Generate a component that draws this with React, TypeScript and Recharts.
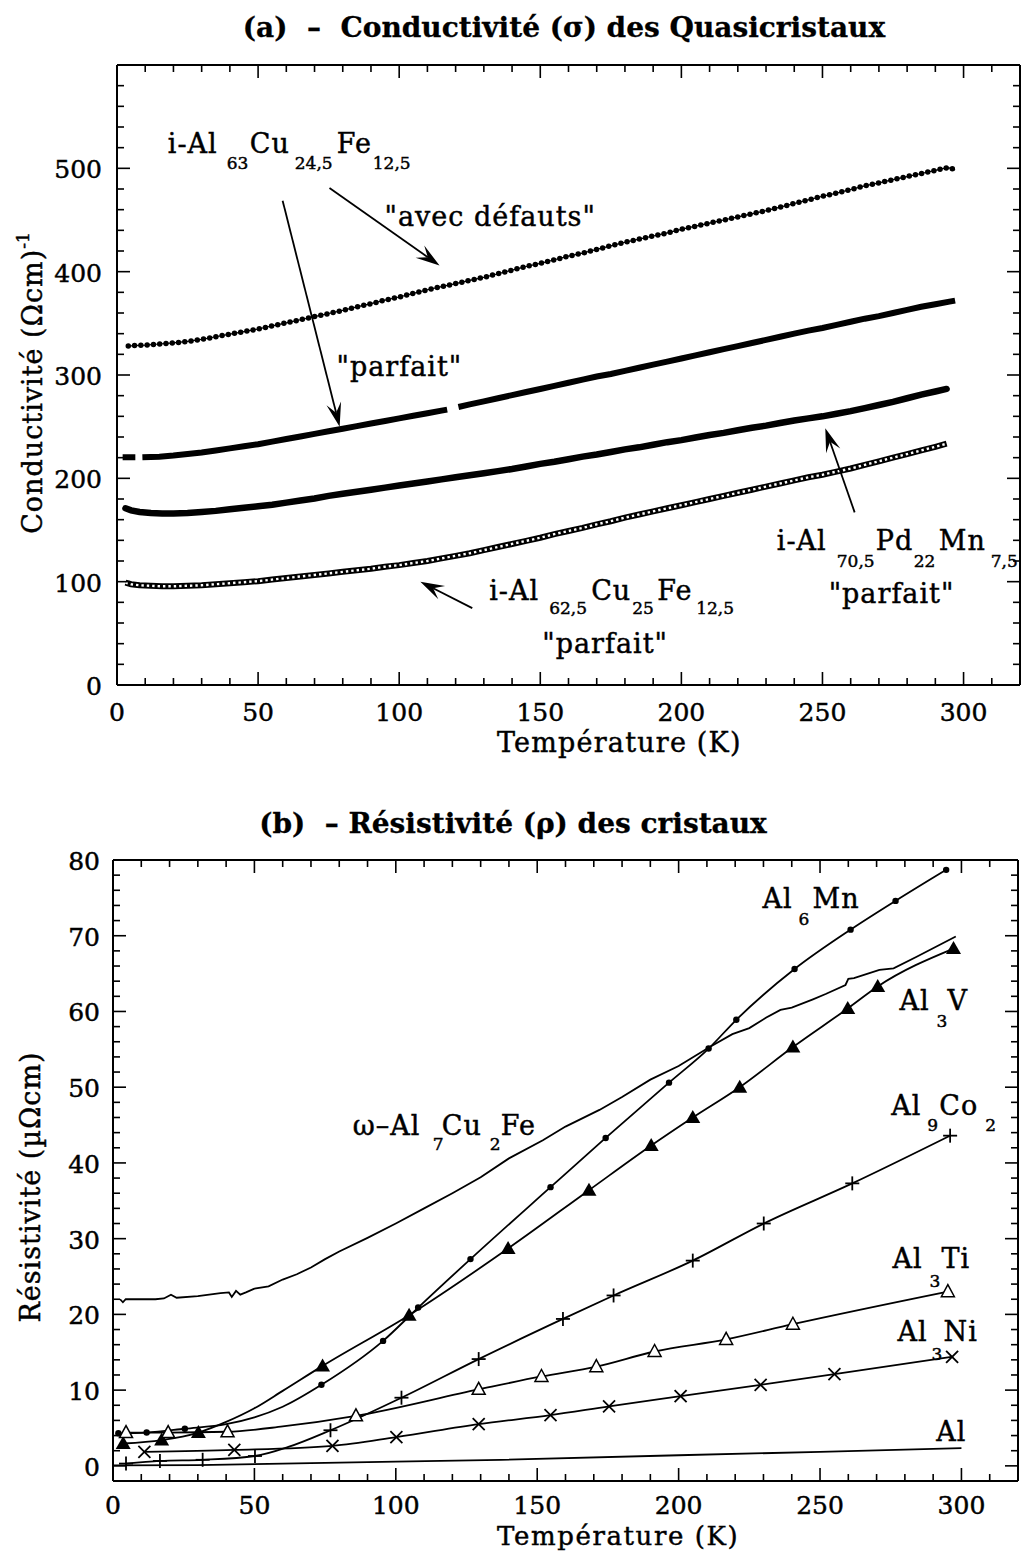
import React from 'react';
import { LineChart, Line, XAxis, YAxis, ReferenceDot, ReferenceLine } from 'recharts';

const SERIF = '"DejaVu Serif", "Liberation Serif", serif';
const INK = { fontFamily: SERIF, fill: '#000', stroke: '#000', strokeWidth: 0.45 };

// ---------- (a) conductivity σ of quasicrystals, (Ωcm)^-1 vs T (K) ----------
const sigmaAvecDefauts: [number, number][] = [
  [4, 328], [6, 328.5], [10, 329], [15, 330], [20, 331], [25, 332.5], [30, 334.5], [35, 337],
  [40, 339.5], [45, 342], [50, 344.5], [55, 347.5], [60, 350.5], [65, 353.5], [70, 356.5],
  [75, 359.5], [80, 362.5], [85, 366], [90, 369], [95, 372.5], [100, 375.5], [105, 379],
  [110, 382.5], [115, 385.5], [120, 388.5], [125, 391.5], [130, 394.5], [135, 398], [140, 401.5],
  [145, 405], [150, 408], [155, 411.5], [160, 415], [165, 418], [170, 421.5], [175, 425],
  [180, 428.5], [185, 431.5], [190, 434.5], [195, 437.5], [200, 441], [205, 444], [210, 447],
  [215, 450], [220, 453], [225, 456], [230, 459], [235, 462.5], [240, 466], [245, 469.5],
  [250, 473], [255, 476], [260, 479.5], [265, 483], [270, 486], [275, 489], [280, 492],
  [285, 495], [290, 498], [293, 500], [295, 500.5], [297, 498.5],
];

const sigmaAl63Parfait: [number, number | null][] = [
  [2, 220.5], [6.5, 220.5], [7.7, null], [9, 220.5], [15, 221], [20, 222], [25, 223.5], [30, 225],
  [35, 227], [40, 229], [45, 231], [50, 233], [55, 235.5], [60, 238], [65, 240.5], [70, 243],
  [75, 245.5], [80, 248], [85, 250.5], [90, 253], [95, 255.5], [100, 258], [105, 260.5],
  [110, 263], [115, 265.5], [117, 266.5], [119, null], [121, 269], [125, 271.5], [130, 274.5],
  [135, 277.5], [140, 280.5], [145, 283.5], [150, 286.5], [155, 289.5], [160, 292.5],
  [165, 295.5], [170, 298.5], [175, 301], [180, 304], [185, 307], [190, 310], [195, 313],
  [200, 316], [205, 319], [210, 322], [215, 325], [220, 328], [225, 331], [230, 334],
  [235, 337], [240, 340], [245, 343], [250, 345.5], [255, 348.5], [260, 351.5], [265, 354.5],
  [270, 357], [275, 360], [280, 363], [285, 366], [290, 368.5], [295, 371], [297, 372],
];

const sigmaPdMnParfait: [number, number][] = [
  [3, 171], [5, 169], [8, 167.5], [12, 166.5], [16, 166], [20, 166], [25, 166.5], [30, 167.5],
  [35, 168.5], [40, 170], [45, 171.5], [50, 173], [55, 174.5], [60, 176.5], [65, 178.5],
  [70, 180.5], [75, 183], [80, 185], [85, 187], [90, 189], [95, 191], [100, 193], [105, 195],
  [110, 197], [115, 199], [120, 201], [125, 203], [130, 205], [135, 207], [140, 209],
  [145, 211.5], [150, 214], [155, 216], [160, 218.5], [165, 221], [170, 223], [175, 225.5],
  [180, 228], [185, 230], [190, 232.5], [195, 235], [200, 237], [205, 239.5], [210, 242],
  [215, 244], [220, 246.5], [225, 249], [230, 251], [235, 253.5], [240, 256], [245, 258],
  [250, 260], [255, 262.5], [260, 265], [265, 268], [270, 271], [275, 274], [280, 277.5],
  [285, 281], [290, 284], [294, 286.5],
];

const sigmaAl625Parfait: [number, number][] = [
  [3, 99], [5, 97.5], [8, 96.5], [12, 96], [16, 95.5], [20, 95.5], [25, 96], [30, 96.5],
  [35, 97.5], [40, 98.5], [45, 99.5], [50, 100.5], [55, 102], [60, 103.5], [65, 105],
  [70, 106.5], [75, 108], [80, 109.5], [85, 111], [90, 112.5], [95, 114.5], [100, 116],
  [105, 118], [110, 120], [115, 122.5], [120, 125], [125, 127.5], [130, 130.5], [135, 133.5],
  [140, 136.5], [145, 139.5], [150, 142.5], [155, 146], [160, 149], [165, 152], [170, 155.5],
  [175, 158.5], [180, 162], [185, 165], [190, 168], [195, 171], [200, 174], [205, 177],
  [210, 180], [215, 183], [220, 186], [225, 189], [230, 192], [235, 195], [240, 198],
  [245, 201], [250, 203.5], [255, 206.5], [260, 209.5], [265, 213], [270, 216.5], [275, 220],
  [280, 223.5], [285, 227], [290, 230.5], [294, 233.5],
];

// ---------- (b) resistivity ρ of crystals, µΩcm vs T (K); third field: 1 = symbol drawn ----------
const rhoAl6Mn: [number, number, number][] = [
  [1.9, 4.3, 1], [11.9, 4.4, 1], [25.4, 4.9, 1], [40, 5.5, 0], [50, 6.4, 0], [60, 7.8, 0],
  [73.7, 10.7, 1], [95.5, 16.5, 1], [107.9, 20.9, 1], [126.4, 27.3, 1], [154.7, 36.8, 1],
  [174.2, 43.3, 1], [196.6, 50.6, 1], [210.6, 55.1, 1], [220.4, 58.9, 1], [241, 65.6, 1],
  [260.8, 70.8, 1], [276.7, 74.6, 1], [294.6, 78.7, 1],
];

const rhoAl3V: [number, number, number][] = [
  [3.6, 2.95, 1], [17.2, 3.4, 1], [30.2, 4.4, 1], [40, 5.8, 0], [50, 7.6, 0], [60, 9.9, 0],
  [74.1, 13.2, 1], [104.7, 19.9, 1], [139.7, 28.7, 1], [168.3, 36.4, 1], [190.3, 42.3, 1],
  [205, 46, 1], [221.6, 50, 1], [240.4, 55.3, 1], [259.8, 60.4, 1], [270.4, 63.3, 1],
  [297.2, 68.3, 1],
];

const rhoAl9Co2: [number, number, number][] = [
  [4.6, 0.3, 1], [16.6, 0.65, 1], [31.7, 0.8, 1], [50.2, 1.3, 1], [62, 2.5, 0], [76.9, 4.7, 1],
  [102, 9.0, 1], [129.3, 14.1, 1], [159.1, 19.4, 1], [177, 22.5, 1], [205, 27.1, 1],
  [230.1, 32.0, 1], [261.4, 37.3, 1], [296, 43.6, 1],
];

const rhoAl3Ti: [number, number, number][] = [
  [4.6, 4.4, 1], [19.5, 4.4, 1], [40.5, 4.5, 1], [60, 5.2, 0], [85.9, 6.6, 1], [129.3, 10.1, 1],
  [151.5, 11.8, 1], [170.9, 13.1, 1], [191.5, 15.1, 1], [216.8, 16.7, 1], [240.4, 18.7, 1],
  [295.2, 23.0, 1],
];

const rhoAl3Ni: [number, number, number][] = [
  [11.1, 1.85, 1], [42.9, 2.1, 1], [77.6, 2.65, 1], [100.2, 3.8, 1], [129.3, 5.5, 1],
  [154.7, 6.7, 1], [175.4, 7.85, 1], [200.7, 9.2, 1], [229, 10.7, 1], [255.1, 12.1, 1],
  [296.7, 14.4, 1],
];

const rhoOmegaAl7Cu2Fe: [number, number][] = [
  [2.5, 22.0], [3.5, 21.6], [4.5, 22.0], [10, 22.0], [15, 22.0], [18, 22.1], [20.5, 22.6],
  [22.5, 22.2], [30, 22.4], [38, 22.8], [41, 22.9], [42, 22.3], [43.5, 23.1], [45, 22.6],
  [47, 22.9], [50, 23.4], [55, 23.7], [60, 24.6], [65, 25.3], [70, 26.2], [75, 27.3],
  [80, 28.3], [90, 30.1], [100, 32.0], [110, 34.0], [120, 36.0], [130, 38.1], [140, 40.6],
  [152, 43.0], [160, 44.8], [172, 47.0], [180, 48.7], [190, 51.0], [200, 52.8], [211, 55.3],
  [219, 57.0], [225, 57.8], [231, 59.2], [236, 60.2], [240, 60.5], [247.5, 61.6], [252, 62.3],
  [259, 63.5], [260, 64.3], [262, 64.4], [271, 65.5], [276, 65.7], [284, 67.2], [298, 69.9],
];

const rhoAl: [number, number][] = [
  [0, 0.05], [30, 0.1], [60, 0.3], [100, 0.55], [137, 0.8], [200, 1.4], [250, 1.85], [300, 2.35],
];

const range = (a: number, b: number, step: number) =>
  Array.from({ length: Math.round((b - a) / step) + 1 }, (_, i) => a + i * step);

const tempTicks = range(0, 310, 10);
const sigmaTicks = range(0, 600, 20);
const rhoTicks = range(0, 80, 2);

const asSigma = (rows: [number, number | null][]) => rows.map(([T, s]) => ({ T, s }));
const asRho = (rows: ([number, number] | [number, number, number])[]) =>
  rows.map((r) => ({ T: r[0], r: r[1], m: r.length > 2 ? r[2] === 1 : false }));

// ---------- axis ticks: all tick marks point into the frame ----------
type Side = 'bottom' | 'top' | 'left' | 'right';
const tickFn = (side: Side, major: number, labelMax: number | null, labelOff: number) => (p: any) => {
  const v = Number(p.payload.value);
  const isMajor = Math.abs(v / major - Math.round(v / major)) < 1e-6;
  const len = isMajor ? 13 : 7;
  const x = p.x;
  const y = p.y;
  let c = [x, y, x, y];
  if (side === 'bottom') c = [x, y, x, y - len];
  if (side === 'top') c = [x, y, x, y + len];
  if (side === 'left') c = [x, y, x + len, y];
  if (side === 'right') c = [x, y, x - len, y];
  const showLabel = isMajor && labelMax !== null && v >= 0 && v <= labelMax;
  return (
    <g>
      <line x1={c[0]} y1={c[1]} x2={c[2]} y2={c[3]} stroke="#000" strokeWidth={1.6} />
      {showLabel && side === 'bottom' && (
        <text x={x} y={y + labelOff} textAnchor="middle" fontSize={25} {...INK}>
          {v}
        </text>
      )}
      {showLabel && side === 'left' && (
        <text x={x - labelOff} y={y + 10} textAnchor="end" fontSize={25} {...INK}>
          {v}
        </text>
      )}
    </g>
  );
};

// ---------- chemical formulae with subscripts ----------
type Part = { t: string; dx: number; sub?: boolean };
const Formula = ({ cx, cy, parts, drop = 15 }: { cx: number; cy: number; parts: Part[]; drop?: number }) => (
  <text {...INK}>
    {parts.map((p, i) => (
      <tspan
        key={i}
        x={cx + p.dx}
        y={cy + (p.sub ? drop : 0)}
        fontSize={p.sub ? 17 : 27}
        letterSpacing={p.sub ? 0 : 1}
      >
        {p.t}
      </tspan>
    ))}
  </text>
);

const ArrowShape = (p: any) => {
  const { x1, y1, x2, y2 } = p;
  const a = Math.atan2(y2 - y1, x2 - x1);
  const L = 24;
  const W = 7.5;
  const cs = Math.cos(a);
  const sn = Math.sin(a);
  const bx = x2 - L * cs;
  const by = y2 - L * sn;
  const nx = x2 - L * 0.6 * cs;
  const ny = y2 - L * 0.6 * sn;
  const pts = `${x2},${y2} ${bx - W * sn},${by + W * cs} ${nx},${ny} ${bx + W * sn},${by - W * cs}`;
  return (
    <g>
      <line x1={x1} y1={y1} x2={nx} y2={ny} stroke="#000" strokeWidth={1.8} />
      <polygon points={pts} fill="#000" />
    </g>
  );
};

const markerDot = (kind: 'dot' | 'tri' | 'otri' | 'plus' | 'cross') => (p: any) => {
  const { cx, cy, payload, index } = p;
  if (!payload || !payload.m || cx == null || cy == null) return <g key={`n${index}`} />;
  const k = `m${index}`;
  if (kind === 'dot') return <circle key={k} cx={cx} cy={cy} r={3.2} fill="#000" />;
  if (kind === 'tri')
    return <polygon key={k} points={`${cx},${cy - 7.5} ${cx - 7.5},${cy + 5.5} ${cx + 7.5},${cy + 5.5}`} fill="#000" />;
  if (kind === 'otri')
    return (
      <polygon
        key={k}
        points={`${cx},${cy - 7} ${cx - 6.5},${cy + 5} ${cx + 6.5},${cy + 5}`}
        fill="#fff"
        stroke="#000"
        strokeWidth={1.5}
      />
    );
  if (kind === 'plus')
    return (
      <g key={k} stroke="#000" strokeWidth={1.8}>
        <line x1={cx - 7} y1={cy} x2={cx + 7} y2={cy} />
        <line x1={cx} y1={cy - 7} x2={cx} y2={cy + 7} />
      </g>
    );
  return (
    <g key={k} stroke="#000" strokeWidth={1.8}>
      <line x1={cx - 6} y1={cy - 6} x2={cx + 6} y2={cy + 6} />
      <line x1={cx - 6} y1={cy + 6} x2={cx + 6} y2={cy - 6} />
    </g>
  );
};

const frame = { stroke: '#000', strokeWidth: 2 };

const titleLabel = (text: string, dx: number, dy: number) => (p: any) => {
  const vb = p.viewBox || {};
  return (
    <text
      x={vb.x + dx}
      y={vb.y + dy}
      textAnchor="middle"
      fontWeight="bold"
      fontSize={28}
      style={{ whiteSpace: 'pre' }}
      {...INK}
      strokeWidth={0.3}
    >
      {text}
    </text>
  );
};

const xTitle = (dx: number, dy: number, size: number, spacing: number) => (p: any) => {
  const vb = p.viewBox || {};
  return (
    <text x={vb.x + dx} y={vb.y + dy} fontSize={size} letterSpacing={spacing} {...INK}>
      Température (K)
    </text>
  );
};

const yTitle = (text: string, sup: string | null, bx: number, dy: number) => (p: any) => {
  const vb = p.viewBox || {};
  const x = vb.x + bx;
  const y = vb.y + dy;
  return (
    <text
      x={x}
      y={y}
      transform={`rotate(-90, ${x}, ${y})`}
      textAnchor="middle"
      fontSize={27}
      letterSpacing={1}
      {...INK}
    >
      {text}
      {sup && (
        <tspan dy={-13} fontSize={17} letterSpacing={0}>
          {sup}
        </tspan>
      )}
    </text>
  );
};

const ConductivityChart = () => (
  <LineChart width={1023} height={770} margin={{ top: 64, right: 2, bottom: 0, left: 0 }}>
    <XAxis
      type="number"
      dataKey="T"
      domain={[0, 320]}
      ticks={tempTicks}
      interval={0}
      allowDataOverflow
      height={85}
      tickSize={0}
      tickMargin={0}
      tickLine={false}
      axisLine={frame}
      tick={tickFn('bottom', 50, 300, 36)}
      label={xTitle(380, 67, 27, 1.2)}
    />
    <XAxis
      xAxisId="top"
      orientation="top"
      type="number"
      dataKey="T"
      domain={[0, 320]}
      ticks={tempTicks}
      interval={0}
      allowDataOverflow
      height={1}
      tickSize={0}
      tickMargin={0}
      tickLine={false}
      axisLine={frame}
      tick={tickFn('top', 50, null, 0)}
      label={titleLabel('(a)  –  Conductivité (σ) des Quasicristaux', 447, -27)}
    />
    <YAxis
      type="number"
      domain={[0, 600]}
      ticks={sigmaTicks}
      interval={0}
      allowDataOverflow
      width={117}
      tickSize={0}
      tickMargin={0}
      tickLine={false}
      axisLine={frame}
      tick={tickFn('left', 100, 500, 15)}
      label={yTitle('Conductivité (Ωcm)', '-1', 42, 318)}
    />
    <YAxis
      yAxisId="right"
      orientation="right"
      type="number"
      domain={[0, 600]}
      ticks={sigmaTicks}
      interval={0}
      allowDataOverflow
      width={1}
      tickSize={0}
      tickMargin={0}
      tickLine={false}
      axisLine={frame}
      tick={tickFn('right', 100, null, 0)}
    />

    {/* binds the top and right axes so the frame is complete */}
    <Line
      xAxisId="top"
      yAxisId="right"
      data={asSigma(sigmaAvecDefauts)}
      dataKey="s"
      stroke="none"
      dot={false}
      activeDot={false}
      legendType="none"
      isAnimationActive={false}
    />

    {/* i-Al63Cu24,5Fe12,5 with defects: chain of filled dots */}
    <Line data={asSigma(sigmaAvecDefauts)} dataKey="s" stroke="#000" strokeWidth={1.2} dot={false} isAnimationActive={false} />
    <Line
      data={asSigma(sigmaAvecDefauts)}
      dataKey="s"
      stroke="#000"
      strokeWidth={5.5}
      strokeDasharray="0 6.3"
      strokeLinecap="round"
      dot={false}
      isAnimationActive={false}
    />
    {/* i-Al63Cu24,5Fe12,5 "parfait": dense filled squares */}
    <Line data={asSigma(sigmaAl63Parfait)} dataKey="s" stroke="#000" strokeWidth={6} dot={false} isAnimationActive={false} />
    {/* i-Al70,5Pd22Mn7,5 "parfait" */}
    <Line
      data={asSigma(sigmaPdMnParfait)}
      dataKey="s"
      stroke="#000"
      strokeWidth={6.5}
      strokeLinecap="round"
      dot={false}
      isAnimationActive={false}
    />
    {/* i-Al62,5Cu25Fe12,5 "parfait": chain of open squares */}
    <Line data={asSigma(sigmaAl625Parfait)} dataKey="s" stroke="#000" strokeWidth={6} dot={false} isAnimationActive={false} />
    <Line
      data={asSigma(sigmaAl625Parfait)}
      dataKey="s"
      stroke="#fff"
      strokeWidth={2.4}
      strokeDasharray="2.4 3"
      dot={false}
      isAnimationActive={false}
    />

    <ReferenceLine segment={[{ x: 75.3, y: 481 }, { x: 114.3, y: 406 }]} shape={ArrowShape} />
    <ReferenceLine segment={[{ x: 58.7, y: 468.6 }, { x: 78.9, y: 250 }]} shape={ArrowShape} />
    <ReferenceLine segment={[{ x: 125.9, y: 74.4 }, { x: 107.5, y: 100 }]} shape={ArrowShape} />
    <ReferenceLine segment={[{ x: 261.4, y: 167.1 }, { x: 251, y: 248.5 }]} shape={ArrowShape} />

    <ReferenceDot
      x={18}
      y={515}
      r={0}
      shape={(p: any) => (
        <Formula
          cx={p.cx}
          cy={p.cy}
          drop={16}
          parts={[
            { t: 'i-Al', dx: 0 },
            { t: '63', dx: 59, sub: true },
            { t: 'Cu', dx: 82 },
            { t: '24,5', dx: 127, sub: true },
            { t: 'Fe', dx: 169 },
            { t: '12,5', dx: 205, sub: true },
          ]}
        />
      )}
    />
    <ReferenceDot x={94.8} y={444.4} r={0} shape={(p: any) => <Formula cx={p.cx} cy={p.cy} parts={[{ t: '"avec défauts"', dx: 0 }]} />} />
    <ReferenceDot x={77.8} y={299.5} r={0} shape={(p: any) => <Formula cx={p.cx} cy={p.cy} parts={[{ t: '"parfait"', dx: 0 }]} />} />
    <ReferenceDot
      x={131.9}
      y={82.1}
      r={0}
      shape={(p: any) => (
        <Formula
          cx={p.cx}
          cy={p.cy}
          drop={14}
          parts={[
            { t: 'i-Al', dx: 0 },
            { t: '62,5', dx: 60, sub: true },
            { t: 'Cu', dx: 102 },
            { t: '25', dx: 143, sub: true },
            { t: 'Fe', dx: 168 },
            { t: '12,5', dx: 207, sub: true },
          ]}
        />
      )}
    />
    <ReferenceDot x={150.7} y={30.9} r={0} shape={(p: any) => <Formula cx={p.cx} cy={p.cy} parts={[{ t: '"parfait"', dx: 0 }]} />} />
    <ReferenceDot
      x={233.8}
      y={130.4}
      r={0}
      shape={(p: any) => (
        <Formula
          cx={p.cx}
          cy={p.cy}
          drop={17}
          parts={[
            { t: 'i-Al', dx: 0 },
            { t: '70,5', dx: 60, sub: true },
            { t: 'Pd', dx: 99 },
            { t: '22', dx: 137, sub: true },
            { t: 'Mn', dx: 162 },
            { t: '7,5', dx: 214, sub: true },
          ]}
        />
      )}
    />
    <ReferenceDot x={252.2} y={79.2} r={0} shape={(p: any) => <Formula cx={p.cx} cy={p.cy} parts={[{ t: '"parfait"', dx: 0 }]} />} />
  </LineChart>
);

const ResistivityChart = () => (
  <LineChart width={1023} height={773} margin={{ top: 79, right: 4, bottom: 0, left: 0 }}>
    <XAxis
      type="number"
      dataKey="T"
      domain={[0, 320]}
      ticks={tempTicks}
      interval={0}
      allowDataOverflow
      height={72}
      tickSize={0}
      tickMargin={0}
      tickLine={false}
      axisLine={frame}
      tick={tickFn('bottom', 50, 300, 33)}
      label={xTitle(384, 64, 26, 1.6)}
    />
    <XAxis
      xAxisId="top"
      orientation="top"
      type="number"
      dataKey="T"
      domain={[0, 320]}
      ticks={tempTicks}
      interval={0}
      allowDataOverflow
      height={1}
      tickSize={0}
      tickMargin={0}
      tickLine={false}
      axisLine={frame}
      tick={tickFn('top', 50, null, 0)}
      label={titleLabel('(b)  – Résistivité (ρ) des cristaux', 400, -26)}
    />
    <YAxis
      type="number"
      domain={[-2, 80]}
      ticks={rhoTicks}
      interval={0}
      allowDataOverflow
      width={113}
      tickSize={0}
      tickMargin={0}
      tickLine={false}
      axisLine={frame}
      tick={tickFn('left', 10, 80, 13)}
      label={yTitle('Résistivité (µΩcm)', null, 40, 327)}
    />
    <YAxis
      yAxisId="right"
      orientation="right"
      type="number"
      domain={[-2, 80]}
      ticks={rhoTicks}
      interval={0}
      allowDataOverflow
      width={1}
      tickSize={0}
      tickMargin={0}
      tickLine={false}
      axisLine={frame}
      tick={tickFn('right', 10, null, 0)}
    />

    {/* binds the top and right axes so the frame is complete */}
    <Line
      xAxisId="top"
      yAxisId="right"
      data={asRho(rhoAl)}
      dataKey="r"
      stroke="none"
      dot={false}
      activeDot={false}
      legendType="none"
      isAnimationActive={false}
    />

    <Line data={asRho(rhoOmegaAl7Cu2Fe)} dataKey="r" type="linear" stroke="#000" strokeWidth={1.8} dot={false} isAnimationActive={false} />
    <Line data={asRho(rhoAl)} dataKey="r" type="linear" stroke="#000" strokeWidth={1.8} dot={false} isAnimationActive={false} />
    <Line data={asRho(rhoAl6Mn)} dataKey="r" type="monotone" stroke="#000" strokeWidth={1.8} dot={markerDot('dot')} isAnimationActive={false} />
    <Line data={asRho(rhoAl3V)} dataKey="r" type="monotone" stroke="#000" strokeWidth={1.8} dot={markerDot('tri')} isAnimationActive={false} />
    <Line data={asRho(rhoAl9Co2)} dataKey="r" type="monotone" stroke="#000" strokeWidth={1.8} dot={markerDot('plus')} isAnimationActive={false} />
    <Line data={asRho(rhoAl3Ti)} dataKey="r" type="monotone" stroke="#000" strokeWidth={1.8} dot={markerDot('otri')} isAnimationActive={false} />
    <Line data={asRho(rhoAl3Ni)} dataKey="r" type="monotone" stroke="#000" strokeWidth={1.8} dot={markerDot('cross')} isAnimationActive={false} />

    <ReferenceDot
      x={229.7}
      y={73.7}
      r={0}
      shape={(p: any) => (
        <Formula cx={p.cx} cy={p.cy} drop={17} parts={[{ t: 'Al', dx: 0 }, { t: '6', dx: 36, sub: true }, { t: 'Mn', dx: 50 }]} />
      )}
    />
    <ReferenceDot
      x={278.1}
      y={60.2}
      r={0}
      shape={(p: any) => (
        <Formula cx={p.cx} cy={p.cy} drop={17} parts={[{ t: 'Al', dx: 0 }, { t: '3', dx: 37, sub: true }, { t: 'V', dx: 48 }]} />
      )}
    />
    <ReferenceDot
      x={275.2}
      y={46.3}
      r={0}
      shape={(p: any) => (
        <Formula
          cx={p.cx}
          cy={p.cy}
          drop={16}
          parts={[{ t: 'Al', dx: 0 }, { t: '9', dx: 36, sub: true }, { t: 'Co', dx: 48 }, { t: '2', dx: 94, sub: true }]}
        />
      )}
    />
    <ReferenceDot
      x={84.8}
      y={43.65}
      r={0}
      shape={(p: any) => (
        <Formula
          cx={p.cx}
          cy={p.cy}
          drop={15}
          parts={[
            { t: 'ω–Al', dx: 0 },
            { t: '7', dx: 80, sub: true },
            { t: 'Cu', dx: 89 },
            { t: '2', dx: 137, sub: true },
            { t: 'Fe', dx: 148 },
          ]}
        />
      )}
    />
    <ReferenceDot
      x={275.6}
      y={26.06}
      r={0}
      shape={(p: any) => (
        <Formula cx={p.cx} cy={p.cy} drop={19} parts={[{ t: 'Al', dx: 0 }, { t: '3', dx: 37, sub: true }, { t: 'Ti', dx: 49 }]} />
      )}
    />
    <ReferenceDot
      x={277.4}
      y={16.53}
      r={0}
      shape={(p: any) => (
        <Formula cx={p.cx} cy={p.cy} drop={19} parts={[{ t: 'Al', dx: 0 }, { t: '3', dx: 34, sub: true }, { t: 'Ni', dx: 46 }]} />
      )}
    />
    <ReferenceDot x={291.1} y={3.31} r={0} shape={(p: any) => <Formula cx={p.cx} cy={p.cy} parts={[{ t: 'Al', dx: 0 }]} />} />
  </LineChart>
);

export default function App() {
  return (
    <div style={{ position: 'absolute', left: 0, top: 0, width: 1023, height: 1553, background: '#fff' }}>
      <div style={{ position: 'absolute', left: 0, top: 0 }}>
        <ConductivityChart />
      </div>
      <div style={{ position: 'absolute', left: 0, top: 780 }}>
        <ResistivityChart />
      </div>
    </div>
  );
}
